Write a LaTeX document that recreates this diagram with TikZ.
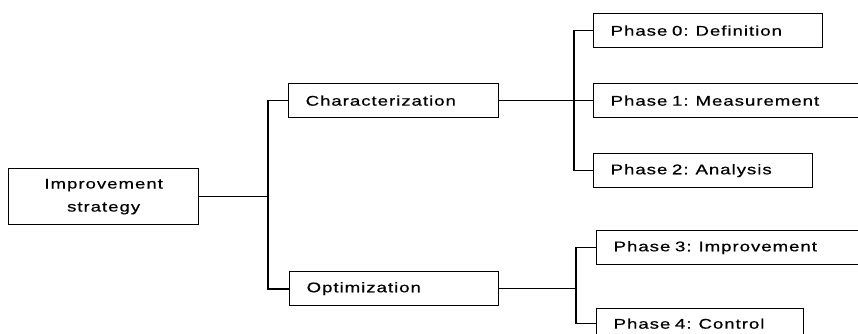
\documentclass[tikz,border=0pt]{standalone}
\usepackage{fontspec}
\setmainfont{Liberation Sans}[FakeStretch=1.33,LetterSpace=7,FakeBold=0.6]
\begin{document}
\begin{tikzpicture}[x=1pt,y=-1pt,box/.style={draw,line width=1.3pt,anchor=north west,minimum height=34pt,inner xsep=17pt,inner ysep=0pt,align=left,font=\fontsize{14}{23}\selectfont},link/.style={line width=1.3pt}]
\clip (0,0) rectangle (858,334);
\node[box,align=center,text width=156pt,minimum height=56pt] (strategy) at (8,168) {Improvement\\strategy};
\node[box,text width=176pt] (char) at (288,83) {Characterization};
\node[box,text width=175pt] (opt) at (289,271) {Optimization};
\node[box,text width=195pt] (p0) at (593,13) {Phase 0: Definition};
\node[box,text width=246pt] (p1) at (593,83) {Phase 1: Measurement};
\node[box,text width=185pt] (p2) at (593,153) {Phase 2: Analysis};
\node[box,text width=246pt] (p3) at (596,230) {Phase 3: Improvement};
\node[box,text width=173pt,minimum height=30pt] (p4) at (596,308) {Phase 4: Control};
\coordinate (splitA) at (268,0);
\coordinate (splitB) at (574,0);
\coordinate (splitC) at (576,0);
\draw[link] (strategy.east) -- (strategy.east -| splitA);
\draw[link,line width=1.7pt] (char.west) -- (char.west -| splitA) |- (opt.west);
\draw[link] (char.east) -- (p1.west);
\draw[link] (p0.west) -- (p0.west -| splitB) |- (p2.west);
\draw[link] (opt.east) -- (opt.east -| splitC);
\draw[link] (p3.west) -- (p3.west -| splitC) |- (p4.west);
\end{tikzpicture}
\end{document}
